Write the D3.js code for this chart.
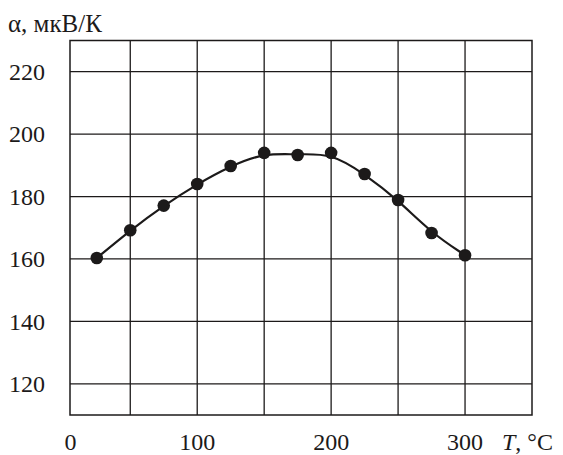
<!DOCTYPE html>
<html><head><meta charset="utf-8">
<script src="https://cdn.jsdelivr.net/npm/d3@7"></script>
<style>body{margin:0;background:#fff}svg{display:block}</style>
</head><body>
<script>
const temps = [25, 50, 75, 100, 125, 150, 175, 200, 225, 250, 275, 300];
const alpha = [160.3, 169.2, 177.1, 184.0, 189.8, 194.0, 193.3, 194.0, 187.2, 178.9, 168.3, 161.2];
const xTicks = [0, 100, 200, 300];
const yTicks = [120, 140, 160, 180, 200, 220];
const xGrid = [50, 100, 150, 200, 250, 300];

const W = 563, H = 455;
const svg = d3.select("body").append("svg").attr("width", W).attr("height", H);
const x = d3.scaleLinear().domain([5, 350]).range([70, 532]);
const y = d3.scaleLinear().domain([110, 230]).range([415, 40.5]);
const font = "'Liberation Serif', 'Times New Roman', serif";
const ink = "#1c1a1a";

const g = svg.append("g");
// grid
g.selectAll(".vg").data(xGrid).enter().append("line")
  .attr("x1", d => x(d)).attr("x2", d => x(d)).attr("y1", y(230)).attr("y2", y(110))
  .attr("stroke", ink).attr("stroke-width", 1.3);
g.selectAll(".hg").data(yTicks).enter().append("line")
  .attr("x1", x(5)).attr("x2", x(350)).attr("y1", d => y(d)).attr("y2", d => y(d))
  .attr("stroke", ink).attr("stroke-width", 1.3);
g.append("rect").attr("x", x(5)).attr("y", y(230)).attr("width", x(350) - x(5)).attr("height", y(110) - y(230))
  .attr("fill", "none").attr("stroke", ink).attr("stroke-width", 1.5);

// y tick labels
g.selectAll(".yl").data(yTicks).enter().append("text")
  .attr("x", 45).attr("y", d => y(d)).attr("dy", "0.34em").attr("text-anchor", "end")
  .attr("font-family", font).attr("font-size", 24).attr("fill", ink).text(d => d);
// x tick labels
g.selectAll(".xl").data(xTicks).enter().append("text")
  .attr("x", d => x(Math.max(d, 5)) + (d === 0 ? 0.5 : 0)).attr("y", 450).attr("text-anchor", "middle")
  .attr("font-family", font).attr("font-size", 24).attr("fill", ink).text(d => d);
// axis titles
const xt = g.append("text").attr("x", 502).attr("y", 450).attr("font-family", font).attr("font-size", 24).attr("fill", ink);
xt.append("tspan").attr("font-style", "italic").text("T");
xt.append("tspan").text(", °C");
g.append("text").attr("x", 8).attr("y", 32).attr("font-family", font).attr("font-size", 25).attr("fill", ink).text("α, мкВ/К");

// curve
const pts = temps.map((t, i) => [t, alpha[i]]);
g.append("path").datum(pts)
  .attr("d", d3.line().x(d => x(d[0])).y(d => y(d[1])).curve(d3.curveBasis))
  .attr("fill", "none").attr("stroke", ink).attr("stroke-width", 2.2);
g.selectAll(".pt").data(pts).enter().append("circle")
  .attr("cx", d => x(d[0])).attr("cy", d => y(d[1])).attr("r", 6.3).attr("fill", ink);
</script>
</body></html>
